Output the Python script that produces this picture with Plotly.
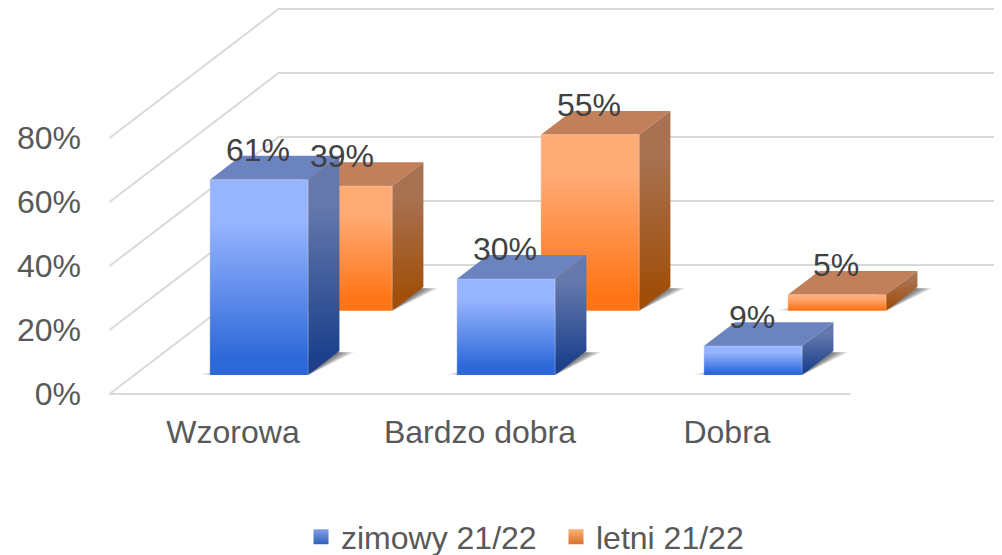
import plotly.graph_objects as go

# --- data ---
categories = ["Wzorowa", "Bardzo dobra", "Dobra"]
series_names = ["zimowy 21/22", "letni 21/22"]
zimowy = [61, 30, 9]
letni = [39, 55, 5]
y_ticks = [0, 20, 40, 60, 80]

# --- page: the browser's body margin shifts the figure by 8 px
PAGE_OFF = 8
FIG_W, FIG_H = 1002 - PAGE_OFF, 555 - PAGE_OFF

# --- oblique projection: depth z in 0..1 shifts a point in x (category units) and y (percent)
PX_PER_PCT = 3.2
PX_PER_CAT = 247.0
DEPTH_X = 169 / PX_PER_CAT
DEPTH_Y = 129 / PX_PER_PCT
BAR_HALF = 0.199
BAR_DEPTH = 0.185
BAR_SHIFT = 0.004
SERIES_Z = [0.148, 0.645]
FLOOR_PX = 394        # page pixel of the 0% front line
X0_PX = 109.5         # page pixel of the front-left floor corner
PLOT_LEFT = 82
PLOT_BOTTOM = 396
LABEL_GAP = 8.3


def proj(x, z, v):
    return x + DEPTH_X * z, v + DEPTH_Y * z


def poly(points):
    xs, ys = zip(*[proj(*p) for p in points])
    return list(xs) + [xs[0]], list(ys) + [ys[0]]


def face(points, top, bottom=None):
    xs, ys = poly(points)
    kw = dict(fillcolor=top) if bottom is None else dict(
        fillgradient=dict(type="vertical",
                          colorscale=[[0, bottom], [0.08, bottom], [0.78, top], [1, top]]))
    return go.Scatter(x=xs, y=ys, mode="lines", fill="toself", line=dict(width=0),
                      hoverinfo="skip", showlegend=False, **kw)


def edge(points, color):
    xs, ys = zip(*[proj(*p) for p in points])
    return go.Scatter(x=list(xs), y=list(ys), mode="lines", line=dict(color=color, width=1.5),
                      hoverinfo="skip", showlegend=False)


STYLES = [
    dict(front=("#97B4FF", "#2C68D8"), side=("#6478AC", "#1C408C"), top="#6B83BE",
         key=("#7FA0EC", "#2F5FB8")),
    dict(front=("#FFAB76", "#FF7415"), side=("#A87252", "#A04E08"), top="#C17F5A",
         key=("#F9B070", "#D9722F")),
]

fig = go.Figure()

# walls and floor
gx, gy = [], []
left, right = -0.5, 2.5
far = right + DEPTH_X + 1
for t in y_ticks:
    ax, ay = proj(left, 0, t)
    bx, by = proj(left, 1, t)
    gx += [ax, bx, far, None]
    gy += [ay, by, by, None]
ax, ay = proj(left, 0, 0)
bx, by = proj(right, 0, 0)
gx += [ax, bx, None]
gy += [ay, by, None]
fig.add_trace(go.Scatter(x=gx, y=gy, mode="lines", line=dict(color="#D9D9D9", width=2),
                         hoverinfo="skip", showlegend=False))

# bars, painted back to front
label_x, label_y, label_t = [], [], []
all_series = [zimowy, letni]
for s in [1, 0]:
    st = STYLES[s]
    z0 = SERIES_Z[s]
    z1 = z0 + BAR_DEPTH
    for i, v in enumerate(all_series[s]):
        x0, x1 = i - BAR_HALF + BAR_SHIFT, i + BAR_HALF + BAR_SHIFT
        # soft contact shadow
        for k in range(1, 7):
            pad = 0.011 * k
            fig.add_trace(face([(x0 - pad, z0 - 0.002, 0), (x0, z0 + 0.025, 0), (x1, z0 + 0.025, 0),
                                (x1, z0, 0), (x1 + pad, z1 - 0.01, 0), (x1, z1 - 0.01, 0)],
                               "rgba(30,30,30,0.13)"))
        fig.add_trace(face([(x0, z1, v), (x1, z1, v), (x1, z0, v), (x0, z0, v)], st["top"]))
        fig.add_trace(face([(x1, z0, 0), (x1, z1, 0), (x1, z1, v), (x1, z0, v)], *st["side"]))
        fig.add_trace(face([(x0, z0, 0), (x1, z0, 0), (x1, z0, v), (x0, z0, v)], *st["front"]))
        fig.add_trace(edge([(x0, z0, 0), (x0, z0, v), (x1, z0, v), (x1, z0, 0)],
                           "rgba(255,255,255,0.16)"))
        lx, ly = proj(i, z0, v)
        label_x.append(lx)
        label_y.append(ly + LABEL_GAP)
        label_t.append(f"{v}%")

fig.add_trace(go.Scatter(x=label_x, y=label_y, text=label_t, mode="text",
                         textposition="middle center", cliponaxis=False,
                         textfont=dict(family="Liberation Sans", size=32, color="#404040"),
                         hoverinfo="skip", showlegend=False))

# legend entries
for name, st in zip(series_names, STYLES):
    fig.add_trace(go.Scatter(x=[None], y=[None], mode="markers", name=name,
                             marker=dict(symbol="square", size=15, color=st["key"][0],
                                         gradient=dict(type="vertical", color=st["key"][1]))))

x_lo = -0.5 - (X0_PX - PLOT_LEFT) / PX_PER_CAT
x_hi = -0.5 + (1002 - X0_PX) / PX_PER_CAT
y_lo = -(PLOT_BOTTOM - FLOOR_PX) / PX_PER_PCT
y_hi = (FLOOR_PX - PAGE_OFF) / PX_PER_PCT

margin_l = PLOT_LEFT - PAGE_OFF
margin_b = 555 - PLOT_BOTTOM
plot_w = FIG_W - margin_l
plot_h = FIG_H - margin_b

fig.update_layout(
    width=FIG_W, height=FIG_H, autosize=False,
    margin=dict(l=margin_l, r=0, t=0, b=margin_b, autoexpand=False),
    paper_bgcolor="white", plot_bgcolor="white",
    font=dict(family="Liberation Sans", color="#595959", size=32),
    xaxis=dict(range=[x_lo, x_hi], tickmode="array", tickvals=[0, 1, 2], ticktext=categories,
               showgrid=False, zeroline=False, showline=False, ticks="outside", automargin=False,
               ticklen=8, tickcolor="rgba(0,0,0,0)", tickfont=dict(size=32, color="#595959")),
    yaxis=dict(range=[y_lo, y_hi], tickmode="array", tickvals=y_ticks, automargin=False,
               ticktext=[f"{t}%" for t in y_ticks], showgrid=False, zeroline=False,
               showline=False, ticks="", tickfont=dict(size=32, color="#595959")),
    legend=dict(orientation="h", x=(301 - PLOT_LEFT) / plot_w, xanchor="left",
                y=(PLOT_BOTTOM - 537) / plot_h, yanchor="middle",
                font=dict(size=32, color="#595959"), itemwidth=30, tracegroupgap=0,
                entrywidth=210, entrywidthmode="pixels",
                bgcolor="rgba(0,0,0,0)"),
)

fig.write_html("out.html", config=dict(displayModeBar=False))
